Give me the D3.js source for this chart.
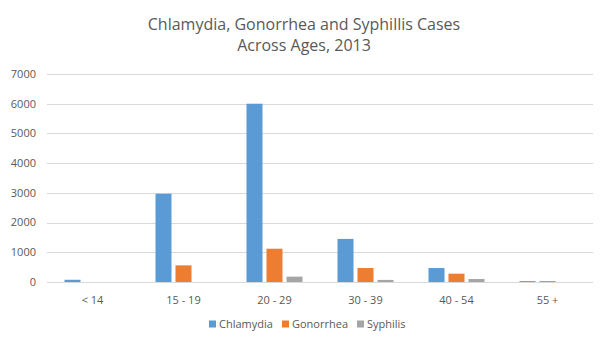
<!DOCTYPE html>
<html><head><meta charset="utf-8">
<script src="https://cdn.jsdelivr.net/npm/d3@7"></script>
<style>body{margin:0;background:#fff}svg{display:block}</style>
</head><body>
<svg id="c" width="608" height="349"></svg>
<script>
const categories = ["< 14","15 - 19","20 - 29","30 - 39","40 - 54","55 +"];
const seriesNames = ["Chlamydia","Gonorrhea","Syphilis"];
const chlamydia = [75, 2970, 6000, 1450, 470, 30];
const gonorrhea = [0, 560, 1120, 470, 280, 30];
const syphilis = [0, 0, 180, 70, 100, 0];
const yTicks = [0,1000,2000,3000,4000,5000,6000,7000];
const colors = ["#5B9BD5","#ED7D31","#A5A5A5"];
const titleLines = ["Chlamydia, Gonorrhea and Syphillis Cases","Across Ages, 2013"];

const series = [chlamydia, gonorrhea, syphilis];
const svg = d3.select("#c");
const font = "'Open Sans', 'Noto Sans', sans-serif";
const L = 47, R = 593, T = 74, B = 282;

const x = d3.scaleBand().domain(categories).range([L, R]);
const y = d3.scaleLinear().domain([0, 7000]).range([B, T]);
const barW = 16, gap = 4;
const xs = d3.scaleBand().domain(seriesNames).range([0, 3*barW + 2*gap]).paddingInner(gap/(barW+gap));

// grid
svg.append("g").selectAll("line").data(yTicks).join("line")
  .attr("x1", L).attr("x2", R)
  .attr("y1", d => Math.round(y(d)) + 0.5).attr("y2", d => Math.round(y(d)) + 0.5)
  .attr("stroke", "#D9D9D9").attr("stroke-width", 1);

// y labels
svg.append("g").selectAll("text").data(yTicks).join("text")
  .attr("x", 36).attr("y", d => y(d)).attr("dy", "0.35em")
  .attr("text-anchor", "end").attr("font-family", font).attr("font-size", 11)
  .attr("fill", "#595959").text(d => d);

// bars
const groupW = 3*barW + 2*gap;
series.forEach((vals, si) => {
  svg.append("g").selectAll("rect").data(vals).join("rect")
    .attr("x", (d, i) => x(categories[i]) + x.bandwidth()/2 - groupW/2 + xs(seriesNames[si]))
    .attr("width", xs.bandwidth())
    .attr("y", d => y(d))
    .attr("height", d => B - y(d))
    .attr("fill", colors[si]);
});

// x labels
svg.append("g").selectAll("text").data(categories).join("text")
  .attr("x", d => x(d) + x.bandwidth()/2).attr("y", 300).attr("dy", "0.35em")
  .attr("text-anchor", "middle").attr("font-family", font).attr("font-size", 11)
  .attr("fill", "#595959").text(d => d);

// title
svg.append("g").selectAll("text").data(titleLines).join("text")
  .attr("x", 304).attr("y", (d, i) => 30 + i*21)
  .attr("text-anchor", "middle").attr("font-family", font).attr("font-size", 16)
  .attr("fill", "#595959").text(d => d);

// legend
const legX = [209, 282, 357];
const lg = svg.append("g").selectAll("g").data(seriesNames).join("g")
  .attr("transform", (d, i) => `translate(${legX[i]},324)`);
lg.append("rect").attr("x", 0).attr("y", -3.5).attr("width", 7).attr("height", 7)
  .attr("fill", (d, i) => colors[i]);
lg.append("text").attr("x", 10).attr("y", 0).attr("dy", "0.35em")
  .attr("font-family", font).attr("font-size", 11).attr("fill", "#595959").text(d => d);
</script>
</body></html>
